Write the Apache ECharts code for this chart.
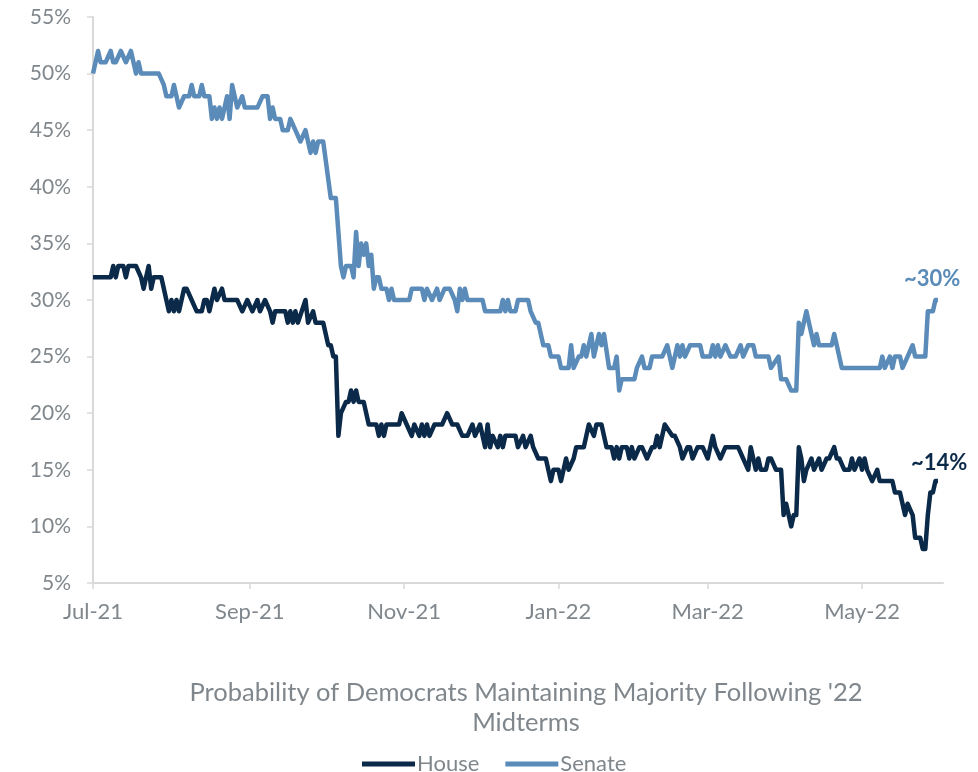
<!DOCTYPE html>
<html>
<head>
<meta charset="utf-8">
<script src="https://cdn.jsdelivr.net/npm/echarts@6/dist/echarts.min.js"></script>
<style>
html,body{margin:0;padding:0;background:#fff;}
#chart{width:978px;height:772px;}
</style>
</head>
<body>
<div id="chart"></div>
<script>
// ---- Data (probability, %) ----
var seriesNames = ['House', 'Senate'];
var xTickDates = ['2021-07-01', '2021-09-01', '2021-11-01', '2022-01-01', '2022-03-01', '2022-05-01'];
var yTicks = [5, 10, 15, 20, 25, 30, 35, 40, 45, 50, 55];
var endLabels = ['~14%', '~30%'];

var senateData = [
['2021-07-01',50],['2021-07-03',52],['2021-07-04',51],['2021-07-06',51],['2021-07-08',52],['2021-07-09',51],
['2021-07-10',51],['2021-07-12',52],['2021-07-14',51],['2021-07-16',52],['2021-07-17',51],['2021-07-18',50],
['2021-07-19',51],['2021-07-20',50],['2021-07-27',50],['2021-07-29',49],['2021-07-30',48],['2021-08-01',48],
['2021-08-02',49],['2021-08-04',47],['2021-08-06',48],['2021-08-08',48],['2021-08-09',49],['2021-08-10',48],
['2021-08-12',48],['2021-08-13',49],['2021-08-14',48],['2021-08-16',48],['2021-08-17',46],['2021-08-18',47],
['2021-08-19',46],['2021-08-20',47],['2021-08-21',46],['2021-08-22',47],['2021-08-23',48],['2021-08-24',46],
['2021-08-25',49],['2021-08-26',48],['2021-08-27',47],['2021-08-29',48],['2021-08-30',47],['2021-09-04',47],
['2021-09-06',48],['2021-09-08',48],['2021-09-09',46],['2021-09-10',47],['2021-09-11',46],['2021-09-13',46],
['2021-09-14',45],['2021-09-16',45],['2021-09-17',46],['2021-09-19',45],['2021-09-21',44],['2021-09-23',45],
['2021-09-25',43],['2021-09-26',44],['2021-09-27',43],['2021-09-28',44],['2021-09-30',44],['2021-10-03',39],
['2021-10-05',39],['2021-10-07',33],['2021-10-08',32],['2021-10-09',33],['2021-10-11',33],['2021-10-12',32],
['2021-10-13',36],['2021-10-14',33],['2021-10-15',35],['2021-10-16',34],['2021-10-17',35],['2021-10-18',33],
['2021-10-19',34],['2021-10-20',31],['2021-10-21',32],['2021-10-22',32],['2021-10-23',31],['2021-10-25',31],
['2021-10-26',30],['2021-10-27',31],['2021-10-28',30],['2021-11-03',30],['2021-11-04',31],['2021-11-08',31],
['2021-11-09',30],['2021-11-10',31],['2021-11-12',30],['2021-11-14',31],['2021-11-15',30],['2021-11-17',31],
['2021-11-19',31],['2021-11-21',30],['2021-11-22',29],['2021-11-23',31],['2021-11-24',30],['2021-11-25',31],
['2021-11-26',30],['2021-12-02',30],['2021-12-03',29],['2021-12-09',29],['2021-12-10',30],['2021-12-11',29],
['2021-12-12',30],['2021-12-13',29],['2021-12-15',29],['2021-12-16',30],['2021-12-20',30],['2021-12-21',29],
['2021-12-23',28],['2021-12-24',28],['2021-12-25',27],['2021-12-26',26],['2021-12-28',26],['2021-12-29',25],
['2022-01-01',25],['2022-01-02',24],['2022-01-05',24],['2022-01-06',26],['2022-01-07',24],['2022-01-09',25],
['2022-01-10',25],['2022-01-11',26],['2022-01-12',25],['2022-01-14',27],['2022-01-15',25],['2022-01-17',27],
['2022-01-18',26],['2022-01-19',27],['2022-01-21',24],['2022-01-23',24],['2022-01-24',25],['2022-01-25',22],
['2022-01-26',23],['2022-01-31',23],['2022-02-01',24],['2022-02-03',25],['2022-02-04',24],['2022-02-06',24],
['2022-02-07',25],['2022-02-11',25],['2022-02-13',26],['2022-02-15',24],['2022-02-17',26],['2022-02-18',25],
['2022-02-19',26],['2022-02-20',25],['2022-02-22',26],['2022-02-26',26],['2022-02-27',25],['2022-03-02',25],
['2022-03-03',26],['2022-03-04',25],['2022-03-05',26],['2022-03-06',25],['2022-03-08',26],['2022-03-10',25],
['2022-03-12',25],['2022-03-14',26],['2022-03-15',25],['2022-03-17',26],['2022-03-19',26],['2022-03-20',25],
['2022-03-25',25],['2022-03-26',24],['2022-03-29',25],['2022-03-30',23],['2022-04-01',23],['2022-04-03',22],
['2022-04-05',22],['2022-04-06',28],['2022-04-07',27],['2022-04-09',29],['2022-04-10',28],['2022-04-12',26],
['2022-04-13',27],['2022-04-14',26],['2022-04-19',26],['2022-04-20',27],['2022-04-21',26],['2022-04-23',24],
['2022-05-08',24],['2022-05-09',25],['2022-05-10',24],['2022-05-12',25],['2022-05-13',24],['2022-05-14',25],
['2022-05-16',25],['2022-05-17',24],['2022-05-19',25],['2022-05-21',26],['2022-05-22',25],['2022-05-26',25],
['2022-05-27',29],['2022-05-29',29],['2022-05-30',30],['2022-05-31',30]
];

var houseData = [
['2021-07-01',32],['2021-07-08',32],['2021-07-09',33],['2021-07-10',32],['2021-07-11',33],['2021-07-13',33],
['2021-07-14',32],['2021-07-15',33],['2021-07-18',33],['2021-07-20',32],['2021-07-21',31],['2021-07-22',32],
['2021-07-23',33],['2021-07-24',31],['2021-07-25',32],['2021-07-28',32],['2021-07-30',30],['2021-07-31',29],
['2021-08-01',30],['2021-08-02',29],['2021-08-03',30],['2021-08-04',29],['2021-08-06',31],['2021-08-07',31],
['2021-08-09',30],['2021-08-11',29],['2021-08-13',29],['2021-08-14',30],['2021-08-15',30],['2021-08-16',29],
['2021-08-18',31],['2021-08-19',30],['2021-08-21',31],['2021-08-22',30],['2021-08-27',30],['2021-08-29',29],
['2021-08-31',30],['2021-09-02',29],['2021-09-04',30],['2021-09-05',29],['2021-09-07',30],['2021-09-09',29],
['2021-09-10',28],['2021-09-11',29],['2021-09-15',29],['2021-09-16',28],['2021-09-17',29],['2021-09-18',28],
['2021-09-19',29],['2021-09-20',28],['2021-09-23',30],['2021-09-24',28],['2021-09-26',29],['2021-09-27',28],
['2021-09-30',28],['2021-10-02',26],['2021-10-03',26],['2021-10-04',25],['2021-10-05',25],['2021-10-06',18],
['2021-10-07',20],['2021-10-09',21],['2021-10-10',21],['2021-10-11',22],['2021-10-12',21],['2021-10-13',22],
['2021-10-14',21],['2021-10-16',21],['2021-10-18',19],['2021-10-21',19],['2021-10-22',18],['2021-10-23',19],
['2021-10-24',18],['2021-10-25',19],['2021-10-30',19],['2021-10-31',20],['2021-11-02',19],['2021-11-04',18],
['2021-11-05',19],['2021-11-07',18],['2021-11-08',19],['2021-11-09',18],['2021-11-10',19],['2021-11-11',18],
['2021-11-13',19],['2021-11-16',19],['2021-11-18',20],['2021-11-20',19],['2021-11-22',19],['2021-11-24',18],
['2021-11-26',18],['2021-11-28',19],['2021-11-29',18],['2021-12-01',19],['2021-12-02',18],['2021-12-03',17],
['2021-12-04',19],['2021-12-05',17],['2021-12-06',18],['2021-12-08',17],['2021-12-09',18],['2021-12-10',17],
['2021-12-11',18],['2021-12-15',18],['2021-12-16',17],['2021-12-18',18],['2021-12-19',17],['2021-12-21',18],
['2021-12-22',17],['2021-12-24',16],['2021-12-27',16],['2021-12-29',14],['2021-12-30',15],['2022-01-01',15],
['2022-01-02',14],['2022-01-04',16],['2022-01-05',15],['2022-01-07',16],['2022-01-08',17],['2022-01-11',17],
['2022-01-13',19],['2022-01-15',18],['2022-01-16',19],['2022-01-18',19],['2022-01-20',17],['2022-01-22',17],
['2022-01-23',16],['2022-01-24',17],['2022-01-25',16],['2022-01-26',17],['2022-01-28',17],['2022-01-29',16],
['2022-01-30',17],['2022-01-31',16],['2022-02-02',17],['2022-02-03',17],['2022-02-05',16],['2022-02-07',17],
['2022-02-08',17],['2022-02-09',18],['2022-02-10',17],['2022-02-12',19],['2022-02-15',18],['2022-02-16',18],
['2022-02-18',17],['2022-02-19',16],['2022-02-21',17],['2022-02-22',17],['2022-02-23',16],['2022-02-25',17],
['2022-02-27',17],['2022-03-01',16],['2022-03-03',18],['2022-03-04',17],['2022-03-06',16],['2022-03-08',17],
['2022-03-13',17],['2022-03-15',16],['2022-03-17',15],['2022-03-18',17],['2022-03-20',15],['2022-03-21',16],
['2022-03-22',15],['2022-03-24',15],['2022-03-25',16],['2022-03-26',16],['2022-03-28',15],['2022-03-30',15],
['2022-03-31',11],['2022-04-01',12],['2022-04-03',10],['2022-04-04',11],['2022-04-05',11],['2022-04-06',17],
['2022-04-07',16],['2022-04-08',14],['2022-04-09',15],['2022-04-11',16],['2022-04-12',15],['2022-04-14',16],
['2022-04-15',15],['2022-04-17',16],['2022-04-18',16],['2022-04-20',17],['2022-04-21',16],['2022-04-22',16],
['2022-04-24',15],['2022-04-26',15],['2022-04-27',16],['2022-04-28',15],['2022-04-30',16],['2022-05-01',15],
['2022-05-02',16],['2022-05-03',15],['2022-05-05',14],['2022-05-07',15],['2022-05-08',14],['2022-05-13',14],
['2022-05-14',13],['2022-05-16',13],['2022-05-17',12],['2022-05-18',11],['2022-05-19',12],['2022-05-21',11],
['2022-05-22',9],['2022-05-24',9],['2022-05-25',8],['2022-05-26',8],['2022-05-27',11],['2022-05-28',13],
['2022-05-29',13],['2022-05-30',14],['2022-05-31',14]
];

var xMin = '2021-07-01';
var xMax = '2022-06-02';

// ---- Chart ----
var HOUSE_COLOR = '#0b2948';
var SENATE_COLOR = '#5a8bb9';
var GREY = '#80878c';
var FONT = 'Lato, "Noto Sans", sans-serif';
var MONTHS = ['Jan','Feb','Mar','Apr','May','Jun','Jul','Aug','Sep','Oct','Nov','Dec'];

function parseDate(s) {
  var p = s.split('-');
  return Date.UTC(+p[0], +p[1] - 1, +p[2]);
}
function toPoints(data) {
  return data.map(function (d) { return [parseDate(d[0]), d[1]]; });
}

var tickValues = xTickDates.map(parseDate);
var chart = echarts.init(document.getElementById('chart'), null, { renderer: 'canvas' });
chart.setOption({
  animation: false,
  backgroundColor: '#ffffff',
  textStyle: { fontFamily: FONT },
  grid: { left: 93, right: 35, top: 17, bottom: 189, containLabel: false },
  title: {
    text: "Probability of Democrats Maintaining Majority Following '22\nMidterms",
    left: 521, top: 673, textAlign: 'center',
    textStyle: { color: GREY, fontSize: 25.5, fontWeight: 'normal', fontFamily: FONT, lineHeight: 30 }
  },
  legend: {
    data: seriesNames,
    left: 357, top: 748,
    icon: 'rect', itemWidth: 53, itemHeight: 5, itemGap: 26,
    textStyle: { color: GREY, fontSize: 22, fontFamily: FONT, padding: [0, 0, 0, -3] }
  },
  xAxis: {
    type: 'value',
    min: parseDate(xMin), max: parseDate(xMax),
    splitLine: { show: false },
    axisLine: { show: true, lineStyle: { color: '#d9d9d9', width: 2 } },
    axisTick: { show: true, length: 6, lineStyle: { color: '#d9d9d9', width: 1.5 },
      customValues: tickValues },
    axisLabel: {
      customValues: tickValues,
      color: GREY, fontSize: 22, margin: 18, fontFamily: FONT,
      formatter: function (v) {
        var d = new Date(v);
        return MONTHS[d.getUTCMonth()] + '-' + String(d.getUTCFullYear()).slice(2);
      }
    }
  },
  yAxis: {
    type: 'value', min: yTicks[0], max: yTicks[yTicks.length - 1], interval: 5,
    splitLine: { show: false },
    axisLine: { show: true, lineStyle: { color: '#d9d9d9', width: 2 } },
    axisTick: { show: true, length: 6, lineStyle: { color: '#d9d9d9', width: 1.5 } },
    axisLabel: { color: GREY, fontSize: 21, margin: 22, fontFamily: FONT, formatter: '{value}%' }
  },
  series: [
    {
      name: seriesNames[0], type: 'line', showSymbol: false, symbol: 'none',
      data: toPoints(houseData),
      lineStyle: { color: HOUSE_COLOR, width: 4.5, join: 'round' },
      itemStyle: { color: HOUSE_COLOR }, z: 3,
      endLabel: {
        show: true, formatter: endLabels[0], color: HOUSE_COLOR,
        fontSize: 22, fontWeight: 'bold', fontFamily: FONT,
        align: 'left', verticalAlign: 'middle', distance: 0, offset: [-27, -18]
      }
    },
    {
      name: seriesNames[1], type: 'line', showSymbol: false, symbol: 'none',
      data: toPoints(senateData),
      lineStyle: { color: SENATE_COLOR, width: 4.5, join: 'round' },
      itemStyle: { color: SENATE_COLOR }, z: 2,
      endLabel: {
        show: true, formatter: endLabels[1], color: SENATE_COLOR,
        fontSize: 22, fontWeight: 'bold', fontFamily: FONT,
        align: 'left', verticalAlign: 'middle', distance: 0, offset: [-34, -21]
      }
    }
  ]
});
</script>
</body>
</html>
